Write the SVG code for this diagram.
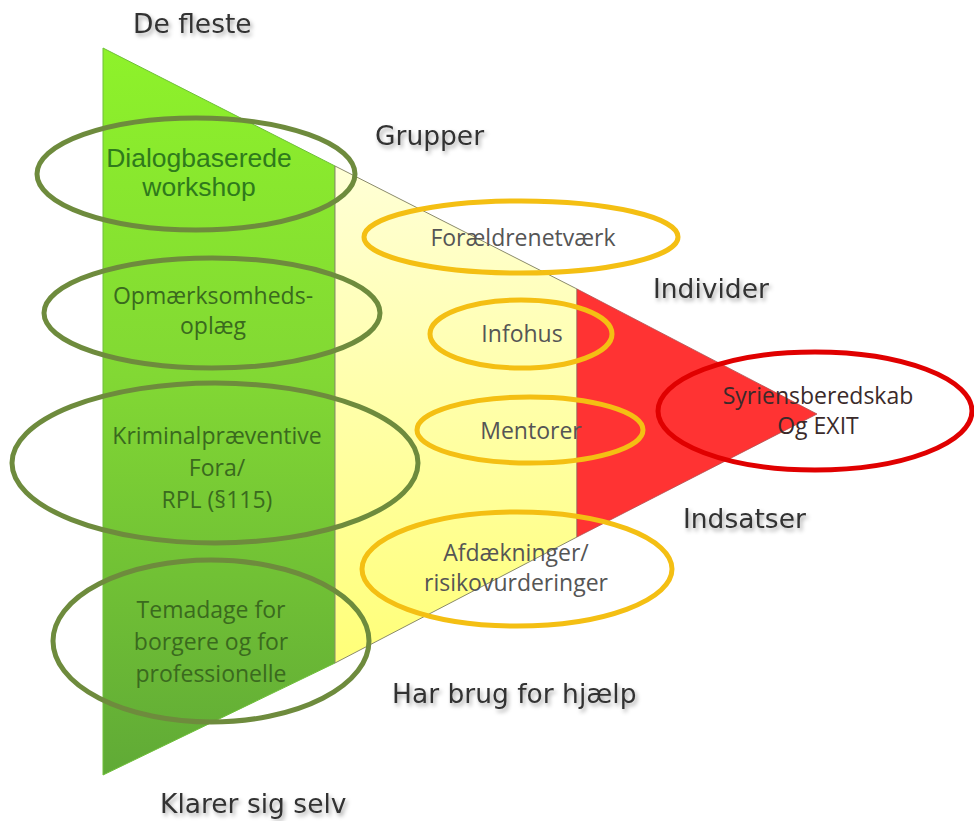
<svg xmlns="http://www.w3.org/2000/svg" width="974" height="821" viewBox="0 0 974 821">
<defs>
<linearGradient id="gGreen" x1="0" y1="0" x2="0" y2="1">
<stop offset="0" stop-color="#8ef22a"/>
<stop offset="0.45" stop-color="#82d834"/>
<stop offset="1" stop-color="#60aa36"/>
</linearGradient>
<linearGradient id="gYellow" x1="0" y1="0" x2="0" y2="1">
<stop offset="0" stop-color="#ffffd6"/>
<stop offset="1" stop-color="#ffff78"/>
</linearGradient>
<filter id="sh" x="-20%" y="-40%" width="140%" height="180%">
<feDropShadow dx="2" dy="3" stdDeviation="2" flood-color="#000" flood-opacity="0.35"/>
</filter>
</defs>
<style>
.hd{font-family:"DejaVu Sans",Verdana,sans-serif;font-size:26.5px;fill:#333;filter:url(#sh)}
.gt{font-family:"Open Sans",sans-serif;font-size:23px;fill:#3a6a1e;text-anchor:middle}
.gta{font-family:"Liberation Sans",Arial,sans-serif;font-size:26.5px;fill:#2f7a1c;text-anchor:middle}
.yt{font-family:"Open Sans",sans-serif;font-size:23px;fill:#555;text-anchor:middle}
.rt{font-family:"Open Sans",sans-serif;font-size:23px;fill:#3a2a2a;text-anchor:middle}
.eg{fill:none;stroke:#6e8b3d;stroke-width:5}
.ey{fill:none;stroke:#f4bf13;stroke-width:5}
.er{fill:none;stroke:#e00000;stroke-width:5}
</style>
<rect width="974" height="821" fill="#fff"/>
<g id="pyramid">
<polygon points="103,48 335,166 335,663 103,775" fill="url(#gGreen)" stroke="#6fbf3a" stroke-width="1"/>
<polygon points="335,166 577,289 577,537 335,663" fill="url(#gYellow)" stroke="#8a8a6a" stroke-width="1"/>
<polygon points="577,289 817,414 577,537" fill="#ff3333" stroke="#b05050" stroke-width="0.8"/>
</g>
<g id="labels">
<text class="hd" x="133" y="33">De fleste</text>
<text class="hd" x="375" y="145">Grupper</text>
<text class="hd" x="653" y="298">Individer</text>
<text class="hd" x="683" y="528">Indsatser</text>
<text class="hd" x="392" y="703">Har brug for hjælp</text>
<text class="hd" x="160" y="813">Klarer sig selv</text>
</g>
<g id="node-dialog">
<text class="gta" x="199" y="167">Dialogbaserede</text>
<text class="gta" x="199" y="196">workshop</text>
<ellipse class="eg" cx="196" cy="174" rx="159" ry="56"/>
</g>
<g id="node-opmaerksomhed">
<text class="gt" x="213" y="304">Opmærksomheds-</text>
<text class="gt" x="213" y="334">oplæg</text>
<ellipse class="eg" cx="212" cy="313" rx="168" ry="55"/>
</g>
<g id="node-kriminal">
<text class="gt" x="217" y="444">Kriminalpræventive</text>
<text class="gt" x="217" y="476">Fora/</text>
<text class="gt" x="217" y="508">RPL (§115)</text>
<ellipse class="eg" cx="215" cy="463" rx="203" ry="80"/>
</g>
<g id="node-temadage">
<text class="gt" x="211" y="618">Temadage for</text>
<text class="gt" x="211" y="650">borgere og for</text>
<text class="gt" x="211" y="682">professionelle</text>
<ellipse class="eg" cx="211" cy="641" rx="158" ry="81"/>
</g>
<g id="node-foraeldre">
<text class="yt" x="523" y="246">Forældrenetværk</text>
<ellipse class="ey" cx="521" cy="237" rx="157" ry="36"/>
</g>
<g id="node-infohus">
<text class="yt" x="522" y="342">Infohus</text>
<ellipse class="ey" cx="521" cy="334" rx="91" ry="34"/>
</g>
<g id="node-mentorer">
<text class="yt" x="531" y="439">Mentorer</text>
<ellipse class="ey" cx="530" cy="430" rx="113" ry="33"/>
</g>
<g id="node-afdaekning">
<text class="yt" x="516" y="561">Afdækninger/</text>
<text class="yt" x="516" y="591">risikovurderinger</text>
<ellipse class="ey" cx="517" cy="569" rx="155" ry="57"/>
</g>
<g id="node-syrien">
<text class="rt" x="818" y="404">Syriensberedskab</text>
<text class="rt" x="818" y="434">Og EXIT</text>
<ellipse class="er" cx="815" cy="411" rx="157" ry="59"/>
</g>
<g id="connectors"/>
</svg>
